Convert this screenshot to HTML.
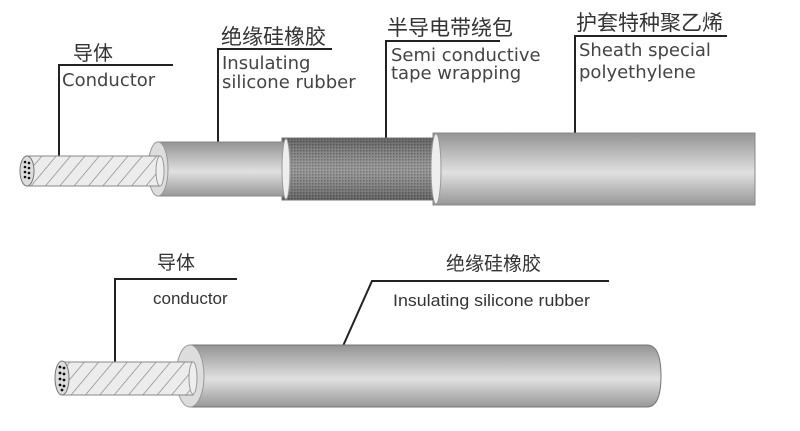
<!DOCTYPE html>
<html><head><meta charset="utf-8"><style>
html,body{margin:0;padding:0;background:#fff;}
svg{display:block}
.cn{font-family:"Liberation Sans","Noto Sans CJK SC",sans-serif;fill:#333}
.en{font-family:"DejaVu Sans","Liberation Sans",sans-serif;fill:#444}
.ar{font-family:"Liberation Sans",sans-serif;fill:#333}
</style></head><body>
<svg width="800" height="431" viewBox="0 0 800 431" xmlns="http://www.w3.org/2000/svg">
<defs>
<linearGradient id="g" x1="0" y1="0" x2="0" y2="1">
<stop offset="0" stop-color="#949494"/><stop offset="0.55" stop-color="#e0e0e0"/><stop offset="1" stop-color="#979797"/>
</linearGradient>
<pattern id="hatch" width="11" height="11" patternUnits="userSpaceOnUse" patternTransform="rotate(40)">
<rect width="11" height="11" fill="#ececec"/><line x1="0" y1="0" x2="0" y2="11" stroke="#777" stroke-width="1.2"/>
</pattern>
<pattern id="knit" width="3" height="3" patternUnits="userSpaceOnUse">
<rect width="3" height="3" fill="#8a8a8a"/><rect width="1.5" height="1.5" fill="#5e5e5e"/>
</pattern>
<linearGradient id="tg" x1="0" y1="0" x2="0" y2="1">
<stop offset="0" stop-color="#000" stop-opacity="0.25"/><stop offset="0.5" stop-color="#fff" stop-opacity="0.15"/><stop offset="1" stop-color="#000" stop-opacity="0.25"/>
</linearGradient>
</defs>

<g stroke="#222" stroke-width="2" fill="none">
<polyline points="173,65 59,65 59,157"/>
<polyline points="332,49 218,49 218,142"/>
<polyline points="500,41 386,41 386,138"/>
<polyline points="727,36 575,36 575,133"/>
<polyline points="237,279 115,279 115,363"/>
<polyline points="609,281 372,281 343,346"/>
</g>
<text class="cn" x="73" y="60" font-size="20">导体</text>
<text class="en" x="62" y="86" font-size="18">Conductor</text>
<text class="cn" x="221" y="44" font-size="21">绝缘硅橡胶</text>
<text class="en" x="222" y="69" font-size="18">Insulating</text>
<text class="en" x="222" y="88" font-size="18">silicone rubber</text>
<text class="cn" x="387" y="35" font-size="21">半导电带绕包</text>
<text class="en" x="391" y="61" font-size="18">Semi conductive</text>
<text class="en" x="391" y="79" font-size="18">tape wrapping</text>
<text class="cn" x="576" y="30" font-size="21">护套特种聚乙烯</text>
<text class="en" x="579" y="56" font-size="18">Sheath special</text>
<text class="en" x="579" y="78" font-size="18">polyethylene</text>

<text class="cn" x="157" y="269" font-size="19">导体</text>
<text class="ar" x="153" y="304" font-size="17">conductor</text>
<text class="cn" x="446" y="270" font-size="19">绝缘硅橡胶</text>
<text class="ar" x="393" y="306" font-size="17" textLength="197" lengthAdjust="spacingAndGlyphs">Insulating silicone rubber</text>

<rect x="433" y="133" width="322" height="72" fill="url(#g)" stroke="#888"/>
<rect x="282" y="138" width="155" height="62" fill="url(#knit)"/>
<rect x="282" y="138" width="155" height="62" fill="url(#tg)" stroke="#777"/>
<ellipse cx="436" cy="169" rx="5" ry="35" fill="#eee" stroke="#999"/>
<rect x="158" y="142" width="127" height="54" fill="url(#g)" stroke="#888"/>
<ellipse cx="286" cy="169" rx="4" ry="30" fill="#eee" stroke="#999"/>
<ellipse cx="158" cy="169" rx="10" ry="27" fill="#ddd" stroke="#999"/>
<rect x="27" y="156" width="133" height="30" fill="url(#hatch)" stroke="#888"/>
<ellipse cx="160" cy="171" rx="4" ry="15" fill="#eee" stroke="#999"/>
<ellipse cx="27" cy="171" rx="7" ry="15" fill="#ddd" stroke="#777"/>
<g fill="#111"><circle cx="25" cy="162" r="1.3"/><circle cx="29" cy="163" r="1.3"/><circle cx="25" cy="167" r="1.3"/><circle cx="29" cy="168" r="1.3"/><circle cx="25" cy="172" r="1.3"/><circle cx="29" cy="173" r="1.3"/><circle cx="25" cy="177" r="1.3"/><circle cx="29" cy="178" r="1.3"/></g>

<path d="M190,345 L647,345 Q661,345 661,376 Q661,407 647,407 L190,407 Z" fill="url(#g)" stroke="#777"/>
<ellipse cx="190" cy="376" rx="14" ry="31" fill="#ddd" stroke="#999"/>
<rect x="62" y="362" width="131" height="33" fill="url(#hatch)" stroke="#888"/>
<ellipse cx="193" cy="378" rx="4" ry="16" fill="#eee" stroke="#999"/>
<ellipse cx="62" cy="378" rx="7" ry="17" fill="#ddd" stroke="#777"/>
<g fill="#111"><circle cx="60" cy="367" r="1.4"/><circle cx="64" cy="368" r="1.4"/><circle cx="60" cy="373" r="1.4"/><circle cx="64" cy="374" r="1.4"/><circle cx="60" cy="379" r="1.4"/><circle cx="64" cy="380" r="1.4"/><circle cx="60" cy="385" r="1.4"/><circle cx="64" cy="386" r="1.4"/><circle cx="62" cy="390" r="1.4"/></g>
</svg>
</body></html>
